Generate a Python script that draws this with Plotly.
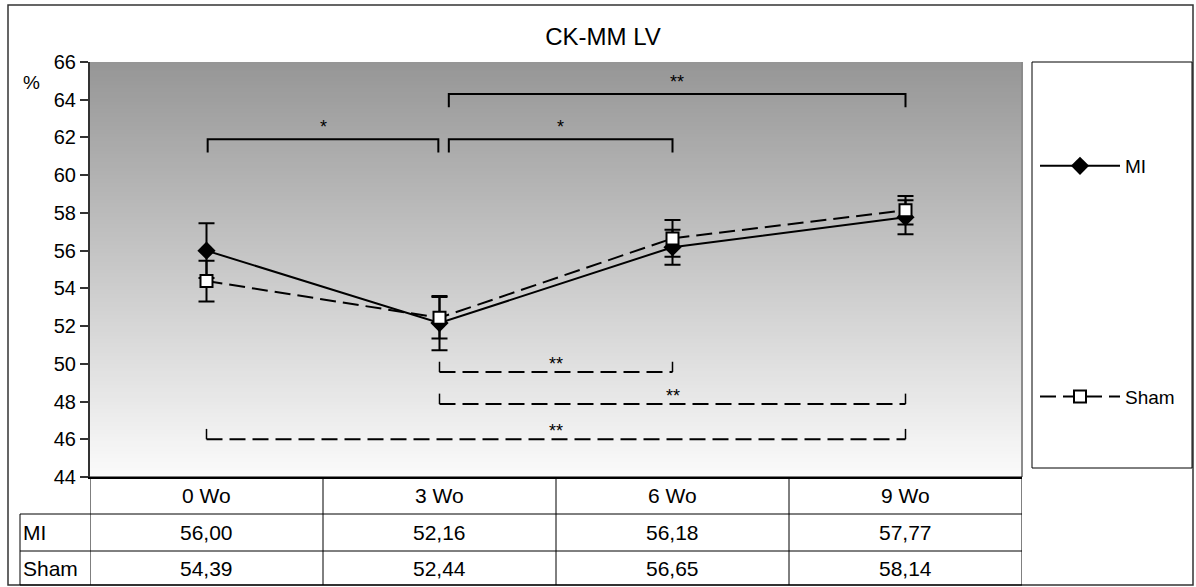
import numpy as np
import plotly.graph_objects as go

# ---- data ----
categories = ["0 Wo", "3 Wo", "6 Wo", "9 Wo"]
mi_values = [56.00, 52.16, 56.18, 57.77]
sham_values = [54.39, 52.44, 56.65, 58.14]
mi_err = [1.45, 1.44, 0.93, 0.90]
sham_err = [1.08, 1.10, 0.97, 0.75]
y_ticks = list(range(44, 67, 2))

# significance comparisons (from, to, level, label)
solid_sig = [("0 Wo", "3 Wo", 61.9, "*"), ("3 Wo", "6 Wo", 61.9, "*"), ("3 Wo", "9 Wo", 64.3, "**")]
dashed_sig = [("3 Wo", "6 Wo", 49.56, "**"), ("3 Wo", "9 Wo", 47.87, "**"), ("0 Wo", "9 Wo", 46.0, "**")]

FONT = "Arial, Liberation Sans, sans-serif"
W, H = 1196, 587
L, R, T, B = 90, 1022, 62, 477  # plot area in px


def px_x(px):
    return (px - L) / (R - L)


def px_y(py):
    return (B - py) / (B - T)


xi = list(range(len(categories)))
idx = {c: i for i, c in enumerate(categories)}

fig = go.Figure()
annotations = []

# gradient background
ymin, ymax = y_ticks[0], y_ticks[-1]
edges = np.linspace(ymin, ymax, 221)
centers = (edges[:-1] + edges[1:]) / 2
fig.add_trace(go.Heatmap(
    x=[-0.5, len(categories) - 0.5], y=edges, z=[[c] for c in centers],
    colorscale=[[0, "#fbfbfb"], [1, "#969696"]], zmin=ymin, zmax=ymax,
    showscale=False, hoverinfo="skip"))

star_font = dict(family=FONT, size=18, color="black")

# significance brackets (solid, above)
for a, b, lvl, lab in solid_sig:
    x0 = idx[a] + (0.04 if a == "3 Wo" else 0.005)
    x1 = idx[b] - (0.005 if b == "3 Wo" else 0)
    t = 0.7
    fig.add_trace(go.Scatter(x=[x0, x0, x1, x1], y=[lvl - t, lvl, lvl, lvl - t], mode="lines",
                             line=dict(color="black", width=2), showlegend=False, hoverinfo="skip"))
    annotations.append(dict(x=(x0 + x1) / 2, y=lvl, xref="x", yref="y", text=lab, showarrow=False,
                            yanchor="middle", yshift=12, font=star_font))

# significance brackets (dashed, below)
for a, b, lvl, lab in dashed_sig:
    x0 = idx[a]
    x1 = idx[b]
    t = 0.55
    fig.add_trace(go.Scatter(x=[x0, x1], y=[lvl, lvl], mode="lines",
                             line=dict(color="black", width=2, dash="16px,7px"), showlegend=False,
                             hoverinfo="skip"))
    fig.add_trace(go.Scatter(x=[x0, x0, None, x1, x1], y=[lvl + t, lvl, None, lvl, lvl + t], mode="lines",
                             line=dict(color="black", width=1.5), showlegend=False, hoverinfo="skip"))
    annotations.append(dict(x=(x0 + x1) / 2, y=lvl, xref="x", yref="y", text=lab, showarrow=False,
                            yanchor="middle", yshift=8, font=star_font))

# series
fig.add_trace(go.Scatter(
    x=xi, y=mi_values, name="MI", mode="lines+markers", legendgroup="mi",
    line=dict(color="black", width=2),
    marker=dict(symbol="diamond", size=14, color="black"),
    error_y=dict(type="data", array=mi_err, color="black", thickness=2, width=8)))
fig.add_trace(go.Scatter(
    x=xi, y=sham_values, name="Sham", mode="lines+markers", legendgroup="sham",
    line=dict(color="black", width=2, dash="16px,7px"),
    marker=dict(symbol="square", size=12, color="white", line=dict(color="black", width=2)),
    error_y=dict(type="data", array=sham_err, color="black", thickness=2, width=8)))

shapes = []
# outer border
shapes.append(dict(type="rect", xref="paper", yref="paper", x0=px_x(8), x1=px_x(1193), y0=px_y(585),
                   y1=px_y(5), line=dict(color="#333333", width=1.5)))
# plot area right edge
shapes.append(dict(type="line", xref="paper", yref="paper", x0=1, x1=1, y0=0, y1=1,
                   line=dict(color="#8c8c8c", width=2)))
# legend box
shapes.append(dict(type="rect", xref="paper", yref="paper", x0=px_x(1032), x1=px_x(1192), y0=px_y(468),
                   y1=px_y(62), line=dict(color="black", width=1)))
# table grid
row_tops = [477, 514, 551, 585]
for k in range(len(categories) + 1):
    shapes.append(dict(type="line", xref="x", yref="paper", x0=k - 0.5, x1=k - 0.5, y0=px_y(477),
                       y1=px_y(585), line=dict(color="black", width=1)))
for i, ry in enumerate(row_tops):
    left = 90 if i == 0 else 20
    shapes.append(dict(type="line", xref="paper", yref="paper", x0=px_x(left), x1=1, y0=px_y(ry),
                       y1=px_y(ry), line=dict(color="black", width=1)))
shapes.append(dict(type="line", xref="paper", yref="paper", x0=px_x(20), x1=px_x(20), y0=px_y(514),
                   y1=px_y(585), line=dict(color="black", width=1)))

tf = dict(family=FONT, size=21, color="black")
for i, c in enumerate(categories):
    annotations.append(dict(x=i, xref="x", y=px_y(495.5), yref="paper", text=c, showarrow=False,
                            xanchor="center", yanchor="middle", font=tf))
    annotations.append(dict(x=i, xref="x", y=px_y(532.5), yref="paper",
                            text=f"{mi_values[i]:.2f}".replace(".", ","), showarrow=False,
                            xanchor="center", yanchor="middle", font=tf))
    annotations.append(dict(x=i, xref="x", y=px_y(568.5), yref="paper",
                            text=f"{sham_values[i]:.2f}".replace(".", ","), showarrow=False,
                            xanchor="center", yanchor="middle", font=tf))
annotations.append(dict(x=px_x(21), xref="paper", xanchor="left", y=px_y(532.5), yref="paper", text="MI",
                        yanchor="middle", showarrow=False, font=tf))
annotations.append(dict(x=px_x(21), xref="paper", xanchor="left", y=px_y(568.5), yref="paper", text="Sham",
                        yanchor="middle", showarrow=False, font=tf))
annotations.append(dict(x=px_x(31), xref="paper", y=px_y(82), yref="paper", text="%", showarrow=False,
                        xanchor="center", yanchor="middle", font=dict(family=FONT, size=19, color="black")))

fig.update_layout(
    width=W, height=H,
    margin=dict(l=L, r=W - R, t=T, b=H - B),
    paper_bgcolor="white", plot_bgcolor="white",
    title=dict(text="CK-MM LV", x=603 / W, xref="container", xanchor="center", y=1 - 37 / H,
               yref="container", yanchor="middle", font=dict(family=FONT, size=24, color="black")),
    xaxis=dict(range=[-0.5, len(categories) - 0.5], showticklabels=False, ticks="", showgrid=False,
               zeroline=False, showline=True, linecolor="black", linewidth=1.5),
    yaxis=dict(range=[ymin, ymax], tickvals=y_ticks, ticks="outside", ticklen=8, tickwidth=1.5,
               tickcolor="#333333", showgrid=False, zeroline=False, showline=True, linecolor="#333333",
               linewidth=2, tickfont=dict(family=FONT, size=20, color="black")),
    legend=dict(x=px_x(1035), xanchor="left", y=px_y(147), yanchor="top", tracegroupgap=203,
                itemwidth=80, bgcolor="rgba(0,0,0,0)", font=dict(family=FONT, size=19, color="black")),
    shapes=shapes, annotations=annotations,
)

fig.write_html("out.html", config={"displayModeBar": False},
               post_script="document.body.style.margin='0';")
